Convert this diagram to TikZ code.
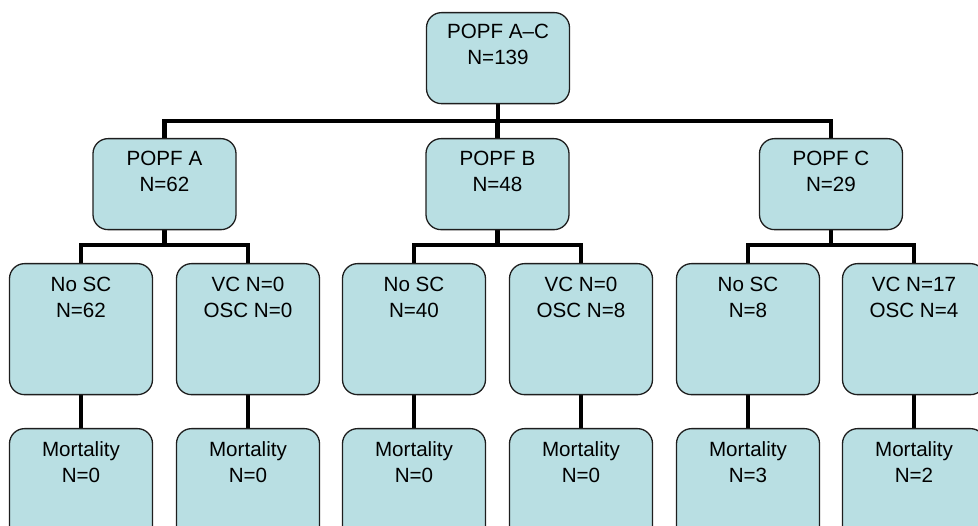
\documentclass[tikz,border=0pt]{standalone}
\usepackage{fontspec}
\setmainfont{Liberation Sans}
\usetikzlibrary{backgrounds}
\definecolor{boxfill}{RGB}{185,223,227}
\definecolor{boxline}{RGB}{30,30,30}
\tikzset{
  treebox/.style={draw=boxline, line width=1.3pt, fill=boxfill, rounded corners=15pt,
    minimum width=143pt, inner sep=0pt, anchor=north},
  % anchored on the baseline of the second (last) line
  boxtext/.style={anchor=base, align=center, inner sep=0pt,
    font=\fontsize{20.6}{26}\selectfont},
  link/.style={line width=4.5pt, black}
}
\begin{document}
\begin{tikzpicture}[x=1pt,y=-1pt]
  \useasboundingbox (0,0) rectangle (978,526);
  \clip (0,0) rectangle (978,526);
  % bar heights of the tree
  \coordinate (bar1) at (0,121);
  \coordinate (bar2) at (0,245);

  % boxes
  \node[treebox, minimum height=91pt]  (top) at (498,12) {};
  \node[treebox, minimum height=91pt]  (pa) at (164.5,138) {};
  \node[treebox, minimum height=91pt]  (pb) at (497.5,138) {};
  \node[treebox, minimum height=91pt]  (pc) at (831,138) {};
  \foreach \n/\x in {a1/81,a2/248,b1/414,b2/581,c1/748,c2/914}{
    \node[treebox, minimum height=131pt] (s\n) at (\x,263) {};
    \node[treebox, minimum height=131pt] (m\n) at (\x,428) {};
  }

  % connectors behind the boxes
  \begin{scope}[on background layer]
    \foreach \p in {pa,pb,pc}
      \draw[link] (top.south) -- (top.south |- bar1) -| (\p.north);
    \foreach \p/\l/\r in {pa/sa1/sa2, pb/sb1/sb2, pc/sc1/sc2}{
      \draw[link] (\p.south) -- (\p.south |- bar2) -| (\l.north);
      \draw[link] (\p.south) -- (\p.south |- bar2) -| (\r.north);
    }
    \foreach \n in {a1,a2,b1,b2,c1,c2}
      \draw[link] (s\n.south) -- (m\n.north);
  \end{scope}

  % labels
  \node[boxtext] (ttop) at ([yshift=-53pt]top.north) {POPF A–C\\N=139};
  \node[boxtext] (tpa) at ([yshift=-54pt]pa.north) {POPF A\\N=62};
  \node[boxtext] (tpb) at ([yshift=-54pt]pb.north) {POPF B\\N=48};
  \node[boxtext] (tpc) at ([yshift=-54pt]pc.north) {POPF C\\N=29};
  \node[boxtext] (tsa1) at ([yshift=-55pt]sa1.north) {No SC\\N=62};
  \node[boxtext] (tsa2) at ([yshift=-55pt]sa2.north) {VC N=0\\OSC N=0};
  \node[boxtext] (tsb1) at ([yshift=-55pt]sb1.north) {No SC\\N=40};
  \node[boxtext] (tsb2) at ([yshift=-55pt]sb2.north) {VC N=0\\OSC N=8};
  \node[boxtext] (tsc1) at ([yshift=-55pt]sc1.north) {No SC\\N=8};
  \node[boxtext] (tsc2) at ([yshift=-55pt]sc2.north) {VC N=17\\OSC N=4};
  \node[boxtext] (tma1) at ([yshift=-55pt]ma1.north) {Mortality\\N=0};
  \node[boxtext] (tma2) at ([yshift=-55pt]ma2.north) {Mortality\\N=0};
  \node[boxtext] (tmb1) at ([yshift=-55pt]mb1.north) {Mortality\\N=0};
  \node[boxtext] (tmb2) at ([yshift=-55pt]mb2.north) {Mortality\\N=0};
  \node[boxtext] (tmc1) at ([yshift=-55pt]mc1.north) {Mortality\\N=3};
  \node[boxtext] (tmc2) at ([yshift=-55pt]mc2.north) {Mortality\\N=2};
\end{tikzpicture}
\end{document}
